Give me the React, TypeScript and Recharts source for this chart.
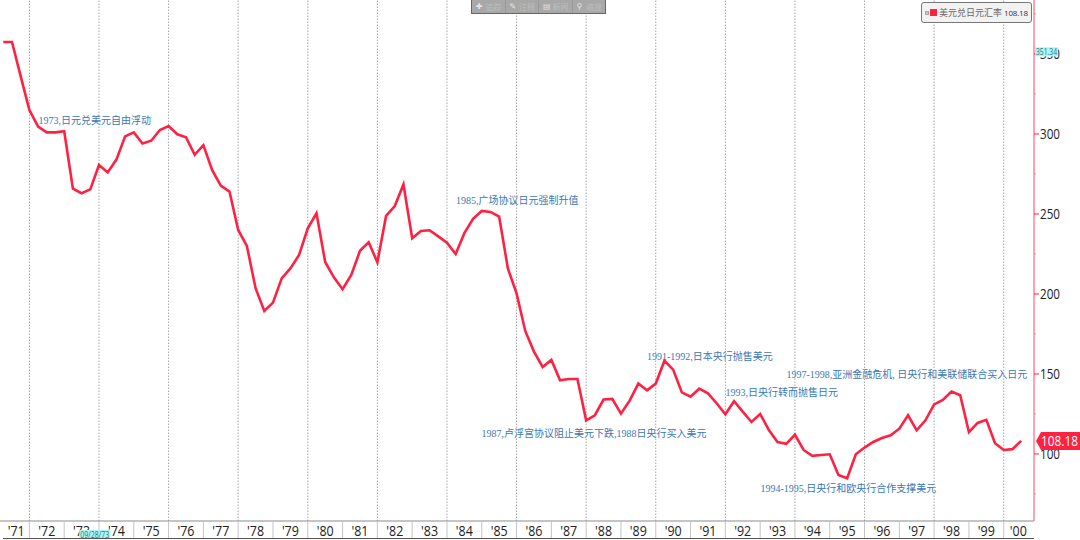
import React from 'react';
import { LineChart, Line, XAxis, YAxis, ReferenceLine, ReferenceDot } from 'recharts';

// USD/JPY, one value per quarter starting 1971 Q2
const usdJpy = [
  357.5, 357.5, 336, 315, 304.6, 301, 301, 301.7, 265.8, 263, 265.4, 280.6, 276, 284, 298.5, 301,
  294, 295.8, 302.5, 305, 299.8, 298, 287, 293, 277.5, 267.7, 264, 240, 230, 203.6, 189.4, 194.6,
  209.8, 216, 224.4, 241, 250.4, 220, 210.4, 203, 211.9, 227, 232.3, 219.8, 248.8, 255, 268.5, 234.8,
  239.4, 239.8, 236, 232, 225, 238, 247, 251.9, 251.3, 248.3, 216, 200.4, 176.9, 164, 154.4, 158.8,
  146, 146.9, 146.9, 121, 124.2, 134, 134.4, 125.2, 133.3, 144, 139.8, 144, 158.3, 152.7, 138.5, 135.8,
  140.8, 137.9, 131.7, 124.8, 133, 126.5, 120, 125, 115, 107.5, 106.3, 112, 102.5, 98.8, 99.4, 99.8,
  86.9, 84.8, 99.8, 104, 107.5, 110, 111.7, 115.8, 124.2, 114.8, 121, 131, 133.8, 139, 136.7, 113.6,
  119.4, 121.3, 106.7, 102.5, 103, 108.18,
];

const firstQuarter = 1971.25;
const yearLabels = [1971.62, 1972.5, 1973.5, 1974.5, 1975.5, 1976.5, 1977.5, 1978.5, 1979.5, 1980.5, 1981.5, 1982.5, 1983.5, 1984.5, 1985.5, 1986.5, 1987.5, 1988.5, 1989.5, 1990.5, 1991.5, 1992.5, 1993.5, 1994.5, 1995.5, 1996.5, 1997.5, 1998.5, 1999.5, 2000.42];
const gridYears = [1972, 1974, 1976, 1978, 1980, 1982, 1984, 1986, 1988, 1990, 1992, 1994, 1996, 1998, 2000];
const majorTicks = [100, 150, 200, 250, 300, 350];
const yTicks = [75, 100, 125, 150, 175, 200, 225, 250, 275, 300, 325, 350, 375];

const seriesName = '美元兑日元汇率';
const lastValue = 108.18;
const highValue = 351.34;
const highDate = '09/28/73';
const toolbarItems = [
  { icon: '✚', label: '追踪' },
  { icon: '✎', label: '注释' },
  { icon: '▤', label: '新闻' },
  { icon: '⚲', label: '缩放' },
];

const notes = [
  { text: '1973,日元兑美元自由浮动', x: 38.5, y: 123.5 },
  { text: '1985,广场协议日元强制升值', x: 456, y: 203.5 },
  { text: '1987,卢浮宫协议阻止美元下跌,1988日央行买入美元', x: 481.5, y: 436.5 },
  { text: '1991-1992,日本央行抛售美元', x: 647, y: 359.5 },
  { text: '1997-1998,亚洲金融危机, 日央行和美联储联合买入日元', x: 786.5, y: 377.5 },
  { text: '1993,日央行转而抛售日元', x: 725.5, y: 395.5 },
  { text: '1994-1995,日央行和欧央行合作支撑美元', x: 760.5, y: 491.5 },
];

const data = usdJpy.map((value, i) => ({ t: firstQuarter + i * 0.25, value }));

const RED = '#ff2142';
const AXIS_PINK = '#ff8296';
const X_DOMAIN = [1971.155, 2000.87];
const Y_DOMAIN = [58.1, 383.75];
const PLOT_W = 1034;
const pxPerYear = PLOT_W / (X_DOMAIN[1] - X_DOMAIN[0]);
const axisFont = '"Open Sans", "DejaVu Sans", sans-serif';
const noteFont = '"Liberation Serif", "Noto Sans CJK SC", serif';

const yearTick = ({ x, payload }: any) => {
  const year = Math.floor(payload.value);
  const sepX = (year + 1 - X_DOMAIN[0]) * pxPerYear;
  return (
    <g>
      {year < 2000 && <line x1={sepX} x2={sepX} y1={521} y2={538} stroke="#c4c4c4" />}
      <text x={x} y={535.5} textAnchor="middle" fontSize={15} fontFamily={axisFont} fill="#222" textLength={17} lengthAdjust="spacingAndGlyphs">
        {`'${String(year).slice(2)}`}
      </text>
    </g>
  );
};

const priceTick = ({ y, payload }: any) => {
  const major = majorTicks.includes(payload.value);
  return (
    <g>
      <line x1={1034} x2={major ? 1039 : 1036} y1={y} y2={y} stroke={major ? RED : AXIS_PINK} strokeWidth={1} />
      {major && (
        <text x={1040} y={y + 5.5} fontSize={15} fontFamily={axisFont} fill="#222" textLength={20} lengthAdjust="spacingAndGlyphs">
          {payload.value}
        </text>
      )}
    </g>
  );
};

const LastTag = ({ cy }: any) => (
  <g>
    <polygon points={`1036,${cy} 1041,${cy - 9} 1080,${cy - 9} 1080,${cy + 9} 1041,${cy + 9}`} fill={RED} />
    <text x={1041} y={cy + 5} fontSize={14} fontFamily={axisFont} fill="#fff" textLength={37} lengthAdjust="spacingAndGlyphs">
      {lastValue}
    </text>
  </g>
);

const HighTag = ({ cy }: any) => (
  <g>
    <rect x={1035} y={cy - 4.5} width={23} height={9} fill="#aef2f2" />
    <text x={1036} y={cy + 3} fontSize={9} fontFamily={axisFont} fill="#1f7f86" textLength={21} lengthAdjust="spacingAndGlyphs">
      {highValue}
    </text>
  </g>
);

const DateTag = ({ cx }: any) => (
  <g>
    <rect x={cx - 11} y={530} width={31} height={9} fill="#aef2f2" />
    <text x={cx - 10} y={537.5} fontSize={9} fontFamily={axisFont} fill="#1f7f86" textLength={29} lengthAdjust="spacingAndGlyphs">
      {highDate}
    </text>
  </g>
);

const Toolbar = () => (
  <div
    style={{
      position: 'absolute', left: 471, top: 0, width: 133, height: 13, background: '#a8a8a8',
      border: '1px solid #666', borderTop: 'none', display: 'flex', fontFamily: '"Noto Sans CJK SC"',
      fontSize: 8, lineHeight: '13px', color: '#bdbdbd',
    }}
  >
    {toolbarItems.map((item, i) => (
      <div
        key={item.label}
        style={{
          flex: 1, display: 'flex', justifyContent: 'space-between', padding: '0 3px 0 4px',
          borderLeft: i ? '1px solid #999' : 'none',
        }}
      >
        <span style={{ color: '#e4e4e4', fontFamily: '"DejaVu Sans"' }}>{item.icon}</span>
        <span>{item.label}</span>
      </div>
    ))}
  </div>
);

const SeriesBox = () => (
  <div
    style={{
      position: 'absolute', left: 921, top: 2, width: 111, height: 21, boxSizing: 'border-box',
      background: '#f2f2f2', border: '1px solid #777', borderRadius: 3, display: 'flex', alignItems: 'center',
      whiteSpace: 'nowrap',
    }}
  >
    <span style={{ flexShrink: 0, width: 4, height: 4, marginLeft: 3, background: '#ccc', border: '1px solid #aaa', boxSizing: 'border-box' }} />
    <span style={{ flexShrink: 0, width: 7, height: 7, marginLeft: 1, background: RED }} />
    <span style={{ marginLeft: 2, color: '#666', fontFamily: '"Noto Sans CJK SC"', fontSize: 9 }}>{seriesName}</span>
    <span style={{ marginLeft: 2, color: '#333', fontFamily: axisFont, fontSize: 8, letterSpacing: -0.2 }}>{lastValue}</span>
  </div>
);

export default function App() {
  return (
    <div style={{ position: 'absolute', left: 0, top: 0, width: 1080, height: 540, background: '#fff', overflow: 'hidden' }}>
      <LineChart width={1080} height={540} data={data} margin={{ top: 0, right: 0, bottom: 0, left: 0 }}>
        <XAxis
          xAxisId="years"
          dataKey="t"
          type="number"
          domain={X_DOMAIN}
          ticks={yearLabels}
          interval={0}
          tick={yearTick}
          tickLine={false}
          stroke="#8a8a8a"
          height={19}
          allowDataOverflow
        />
        <YAxis
          yAxisId="price"
          orientation="right"
          type="number"
          domain={Y_DOMAIN}
          ticks={yTicks}
          interval={0}
          tick={priceTick}
          tickLine={false}
          axisLine={{ stroke: AXIS_PINK, strokeWidth: 1.5 }}
          width={46}
          allowDataOverflow
        />
        {gridYears.map((year) => (
          <ReferenceLine key={year} xAxisId="years" yAxisId="price" x={year} stroke="#a6a6a6" strokeDasharray="1.5 1.5" />
        ))}
        <Line
          xAxisId="years"
          yAxisId="price"
          dataKey="value"
          stroke={RED}
          strokeWidth={2.6}
          strokeLinejoin="miter"
          dot={false}
          activeDot={false}
          isAnimationActive={false}
        />
        <ReferenceDot xAxisId="years" yAxisId="price" x={X_DOMAIN[1]} y={highValue} ifOverflow="visible" shape={HighTag} zIndex={2000} />
        <ReferenceDot xAxisId="years" yAxisId="price" x={X_DOMAIN[1]} y={lastValue} ifOverflow="visible" shape={LastTag} zIndex={2000} />
        <ReferenceDot xAxisId="years" yAxisId="price" x={1973.75} y={Y_DOMAIN[0]} ifOverflow="visible" shape={DateTag} zIndex={2000} />
        {notes.map((note) => (
          <text key={note.text} x={note.x} y={note.y} fontSize={10} fontFamily={noteFont} fill="#3b78b4">
            {note.text}
          </text>
        ))}
      </LineChart>
      {/* bottom rule of the year band */}
      <div style={{ position: 'absolute', left: 3, top: 538, width: 1031, height: 1, background: '#555' }} />
      <Toolbar />
      <SeriesBox />
    </div>
  );
}
